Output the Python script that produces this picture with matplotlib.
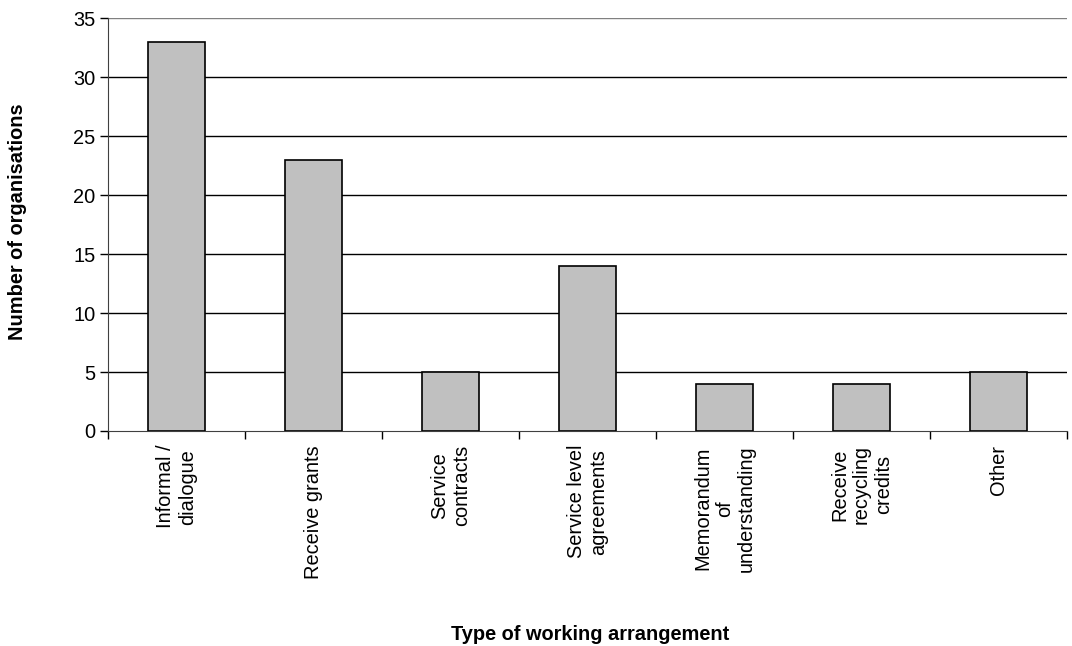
import matplotlib.pyplot as plt

plt.rcParams['font.family'] = ['Liberation Sans', 'DejaVu Sans']

categories = ['Informal /\ndialogue', 'Receive grants', 'Service\ncontracts',
              'Service level\nagreements', 'Memorandum\nof\nunderstanding',
              'Receive\nrecycling\ncredits', 'Other']
counts = [33, 23, 5, 14, 4, 4, 5]

fig = plt.figure(figsize=(10.72, 6.46), dpi=100)
ax = fig.add_axes([108 / 1072, 1 - 431 / 646, (1067 - 108) / 1072, (431 - 18) / 646])

xs = range(len(categories))
ax.bar(xs, counts, width=0.41, color='#c0c0c0', edgecolor='black', linewidth=1.2, zorder=3)

ax.set_xlim(-0.5, len(categories) - 0.5)
ax.set_ylim(0, 35)
ax.set_yticks(range(0, 36, 5))
for y in range(5, 36, 5):
    ax.axhline(y, color='black' if y < 35 else '#808080', linewidth=1, zorder=1)

# category labels sit at the centres, ticks mark the boundaries
ax.set_xticks([i - 0.5 for i in range(len(categories) + 1)])
ax.set_xticklabels([])
ax.set_xticks(list(xs), minor=True)
ax.set_xticklabels(categories, minor=True, rotation=90, ha='center',
                   multialignment='center', fontsize=14.4)
ax.tick_params(axis='x', which='major', length=6, width=1, direction='out')
ax.tick_params(axis='x', which='minor', length=0, pad=10)
ax.tick_params(axis='y', length=6, width=1, labelsize=14.4, pad=3)

for side in ['top', 'right']:
    ax.spines[side].set_visible(False)
ax.spines['left'].set_color('#404040')
ax.spines['bottom'].set_color('#404040')

fig.text(18 / 1072, 1 - 222 / 646, 'Number of organisations', rotation=90,
         ha='center', va='center', fontsize=14.4, fontweight='bold')
fig.text(590 / 1072, 1 - 634 / 646, 'Type of working arrangement',
         ha='center', va='center', fontsize=14.4, fontweight='bold')

fig.savefig('out.png', dpi=100)
